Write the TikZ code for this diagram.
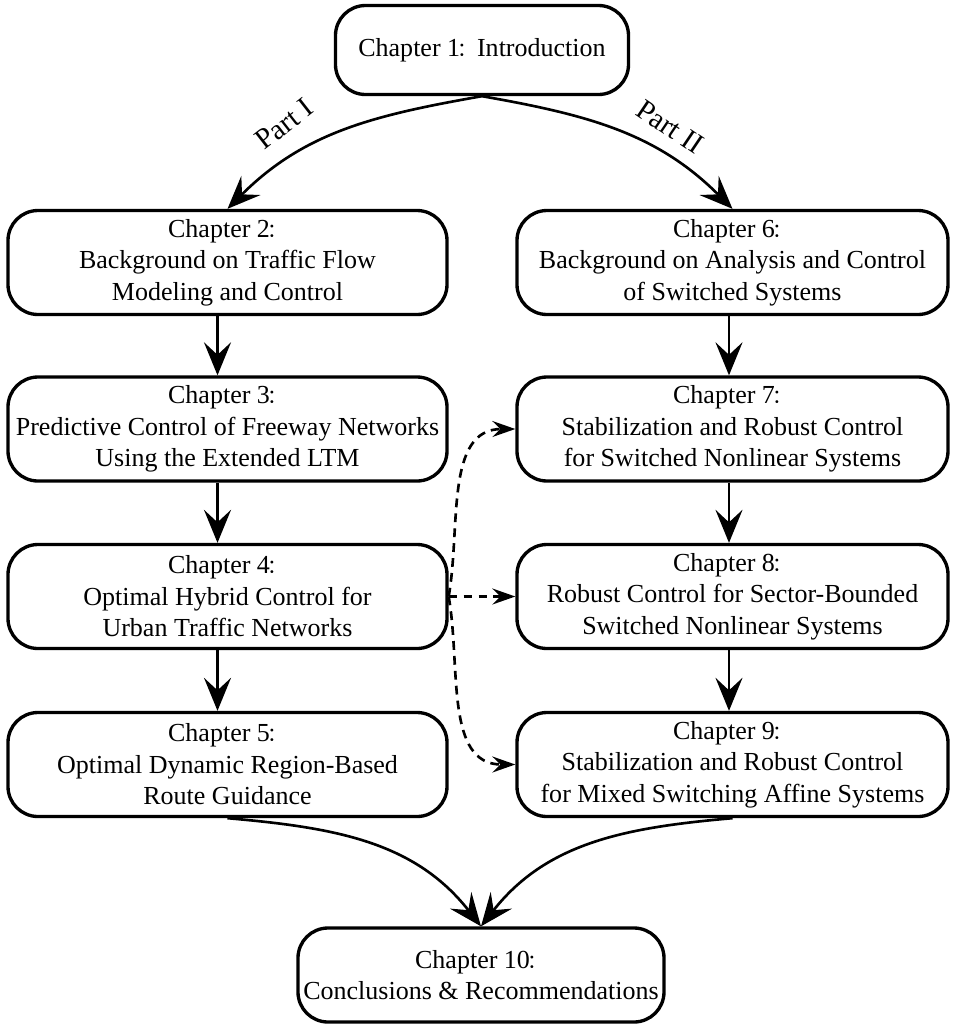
\documentclass[tikz,border=0pt]{standalone}
\usepackage{fontspec}
\setmainfont{Liberation Serif}
\newfontfamily\cjk[Scale=0.75]{Noto Sans CJK SC}
\usetikzlibrary{arrows.meta,positioning}
\newcommand{\zhcolon}{\kern-0.1em{\cjk ：}}
\tikzset{
  >={Stealth[length=6.6mm,width=5.4mm,inset=2.5mm]},
  % kapitel
  chap/.style={draw,rounded corners=0.6cm,line width=1.9pt,align=center,
               inner sep=1pt,font=\fontsize{14.8pt}{17.9pt}\selectfont},
  chl/.style={chap,minimum width=8.78cm,minimum height=2.08cm},
  chr/.style={chap,minimum width=8.62cm,minimum height=2.08cm},
  % pilar
  flow/.style={->,line width=1.5pt},
  link/.style={-{Stealth[length=4.6mm,width=3.2mm,inset=1.6mm]},line width=1.5pt,
               dash pattern=on 5pt off 3.5pt},
  partl/.style={font=\fontsize{16.5pt}{20pt}\selectfont,inner sep=1pt},
}
\begin{document}
\begin{tikzpicture}
\useasboundingbox (0,0) rectangle (19.1,-20.54);
  \node[chap,minimum width=5.86cm,minimum height=1.78cm] (c1) at (9.64,-1.0) {Chapter 1\zhcolon Introduction};
  \node[chl] (c2) at (4.55,-5.25) {Chapter 2\zhcolon\\Background on Traffic Flow\\Modeling and Control};
  \node[chl] (c3) at (4.55,-8.58) {Chapter 3\zhcolon\\Predictive Control of Freeway Networks\\Using the Extended LTM};
  \node[chl] (c4) at (4.55,-11.93) {Chapter 4\zhcolon\\Optimal Hybrid Control for\\Urban Traffic Networks};
  \node[chl] (c5) at (4.55,-15.29) {Chapter 5\zhcolon\\Optimal Dynamic Region-Based\\Route Guidance};
  \node[chr] (c6) at (14.65,-5.25) {Chapter 6\zhcolon\\Background on Analysis and Control\\of Switched Systems};
  \node[chr] (c7) at (14.65,-8.58) {Chapter 7\zhcolon\\Stabilization and Robust Control\\for Switched Nonlinear Systems};
  \node[chr] (c8) at (14.65,-11.93) {Chapter 8\zhcolon\\Robust Control for Sector-Bounded\\Switched Nonlinear Systems};
  \node[chr] (c9) at (14.65,-15.29) {Chapter 9\zhcolon\\Stabilization and Robust Control\\for Mixed Switching Affine Systems};
  \node[chap,minimum width=7.32cm,minimum height=1.88cm] (c10) at (9.62,-19.5) {Chapter 10\zhcolon\\Conclusions \& Recommendations};
  \node[partl,rotate=38] (p1) at (5.68,-2.48) {Part I};
  \node[partl,rotate=-34] (p2) at (13.4,-2.54) {Part II};
  \draw[flow] (c1.south) to[out=190,in=45] (c2.north);
  \draw[flow] (c1.south) to[out=-10,in=135] (c6.north);
  \draw[flow] ([xshift=-2mm]c2.south) -- ([xshift=-2mm]c3.north);
  \draw[flow] ([xshift=-2mm]c3.south) -- ([xshift=-2mm]c4.north);
  \draw[flow] ([xshift=-2mm]c4.south) -- ([xshift=-2mm]c5.north);
  \draw[flow] ([xshift=-0.7mm]c6.south) -- ([xshift=-0.7mm]c7.north);
  \draw[flow] ([xshift=-0.7mm]c7.south) -- ([xshift=-0.7mm]c8.north);
  \draw[flow] ([xshift=-0.7mm]c8.south) -- ([xshift=-0.7mm]c9.north);
  \draw[flow] (c5.south) to[out=-5,in=128] (c10.north);
  \draw[flow] (c9.south) to[out=185,in=52] (c10.north);
  \draw[link] (c4.east) to[out=80,in=180] (c7.west);
  \draw[link] (c4.east) -- (c8.west);
  \draw[link] (c4.east) to[out=-80,in=180] (c9.west);
\end{tikzpicture}
\end{document}
